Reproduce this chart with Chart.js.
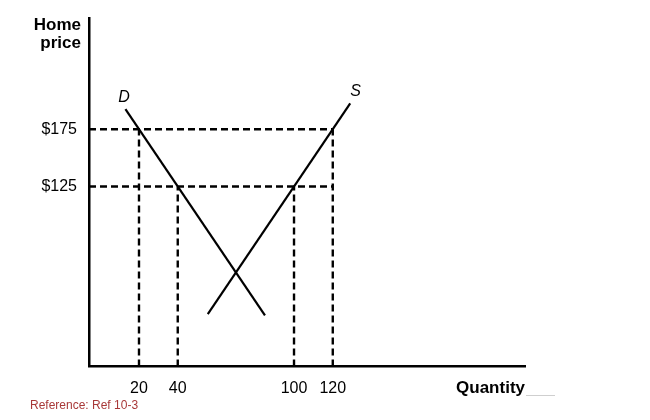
<!DOCTYPE html>
<html><head><meta charset="utf-8">
<script src="https://cdn.jsdelivr.net/npm/chart.js@4.4.1/dist/chart.umd.min.js"></script>
<style>html,body{margin:0;padding:0;background:#fff}canvas{display:block}</style>
</head><body>
<canvas id="c" width="650" height="420"></canvas>
<script>
// ---- data ----
const quantityTicks = [20, 40, 100, 120];
const priceTicks = [125, 175];
const demandQty = [13, 85];
const demandPrice = [192.5, 12.5];
const supplyQty = [55.5, 129];
const supplyPrice = [13.75, 197.5];
const guideQty = [20, 40, 100, 120];
const guidePrice = [175, 125, 125, 175];
const curveNames = ['D', 'S'];
const curveNameQty = [12.3, 131.8];
const curveNamePrice = [202.5, 208.2];

const X_MIN = -5.8, X_MAX = 219.2, Y_MIN = -32, Y_MAX = 272;
const FONT = "'Liberation Sans', Arial, Helvetica, sans-serif";
Chart.defaults.font.family = FONT;

const pts = (xs, ys) => xs.map((x, i) => ({ x, y: ys[i] }));
const solid = (data) => ({ data, showLine: true, borderColor: '#000', borderWidth: 2.2, pointRadius: 0, fill: false });
const dashed = (data) => ({ data, showLine: true, borderColor: '#000', borderWidth: 2.4, borderDash: [7, 4], pointRadius: 0, fill: false });

const hEnd = Math.max(...quantityTicks);
const datasets = [
  solid(pts(demandQty, demandPrice)),
  solid(pts(supplyQty, supplyPrice)),
  ...priceTicks.map(p => dashed([{ x: X_MIN, y: p }, { x: hEnd, y: p }])),
  ...guideQty.map((q, i) => dashed([{ x: q, y: Y_MIN }, { x: q, y: guidePrice[i] }]))
];

const extras = {
  id: 'extras',
  afterDraw(chart) {
    const { ctx, chartArea, scales } = chart;
    ctx.save();
    ctx.fillStyle = '#000';
    // Y axis title
    ctx.font = "bold 17px " + FONT;
    ctx.textAlign = 'right';
    ctx.textBaseline = 'alphabetic';
    ctx.fillText('Home', chartArea.left - 8, 30);
    ctx.fillText('price', chartArea.left - 8, 48);
    // curve names
    ctx.font = "italic 16px " + FONT;
    ctx.textAlign = 'center';
    ctx.textBaseline = 'middle';
    curveNames.forEach((n, i) => {
      ctx.fillText(n, scales.x.getPixelForValue(curveNameQty[i]), scales.y.getPixelForValue(curveNamePrice[i]));
    });
    // gray underline after Quantity
    ctx.strokeStyle = '#cfcfcf';
    ctx.lineWidth = 1;
    ctx.beginPath();
    ctx.moveTo(chartArea.right + 1, 395.5);
    ctx.lineTo(chartArea.right + 30, 395.5);
    ctx.stroke();
    // reference note
    ctx.fillStyle = '#a83838';
    ctx.font = "12px " + FONT;
    ctx.textAlign = 'left';
    ctx.textBaseline = 'alphabetic';
    ctx.fillText('Reference: Ref 10-3', 30, 409);
    ctx.restore();
  }
};

new Chart(document.getElementById('c'), {
  type: 'scatter',
  data: { datasets },
  options: {
    responsive: false,
    animation: false,
    devicePixelRatio: 1,
    layout: { padding: { left: 0, right: 125, top: 18, bottom: 0 } },
    plugins: { legend: { display: false }, tooltip: { enabled: false } },
    scales: {
      x: {
        type: 'linear', min: X_MIN, max: X_MAX,
        grid: { display: false, drawTicks: false },
        border: { display: true, color: '#000', width: 2.5 },
        ticks: { color: '#000', font: { size: 16 }, padding: 12, autoSkip: false, maxRotation: 0 },
        afterBuildTicks: (a) => { a.ticks = quantityTicks.map(v => ({ value: v })); },
        afterFit: (s) => { s.height = 53.5; s.paddingLeft = 0; s.paddingRight = 0; },
        title: { display: true, text: 'Quantity', align: 'end', color: '#000',
                 font: { size: 17, weight: 'bold' }, padding: { top: 0, bottom: 21 } }
      },
      y: {
        type: 'linear', min: Y_MIN, max: Y_MAX,
        grid: { display: false, drawTicks: false },
        border: { display: true, color: '#000', width: 2.5 },
        ticks: { color: '#000', font: { size: 16 }, padding: 12, autoSkip: false,
                 callback: (v) => '$' + v },
        afterBuildTicks: (a) => { a.ticks = priceTicks.map(v => ({ value: v })); },
        afterFit: (s) => { s.width = 89; s.paddingTop = 0; s.paddingBottom = 0; }
      }
    }
  },
  plugins: [extras]
});
</script>
</body></html>
